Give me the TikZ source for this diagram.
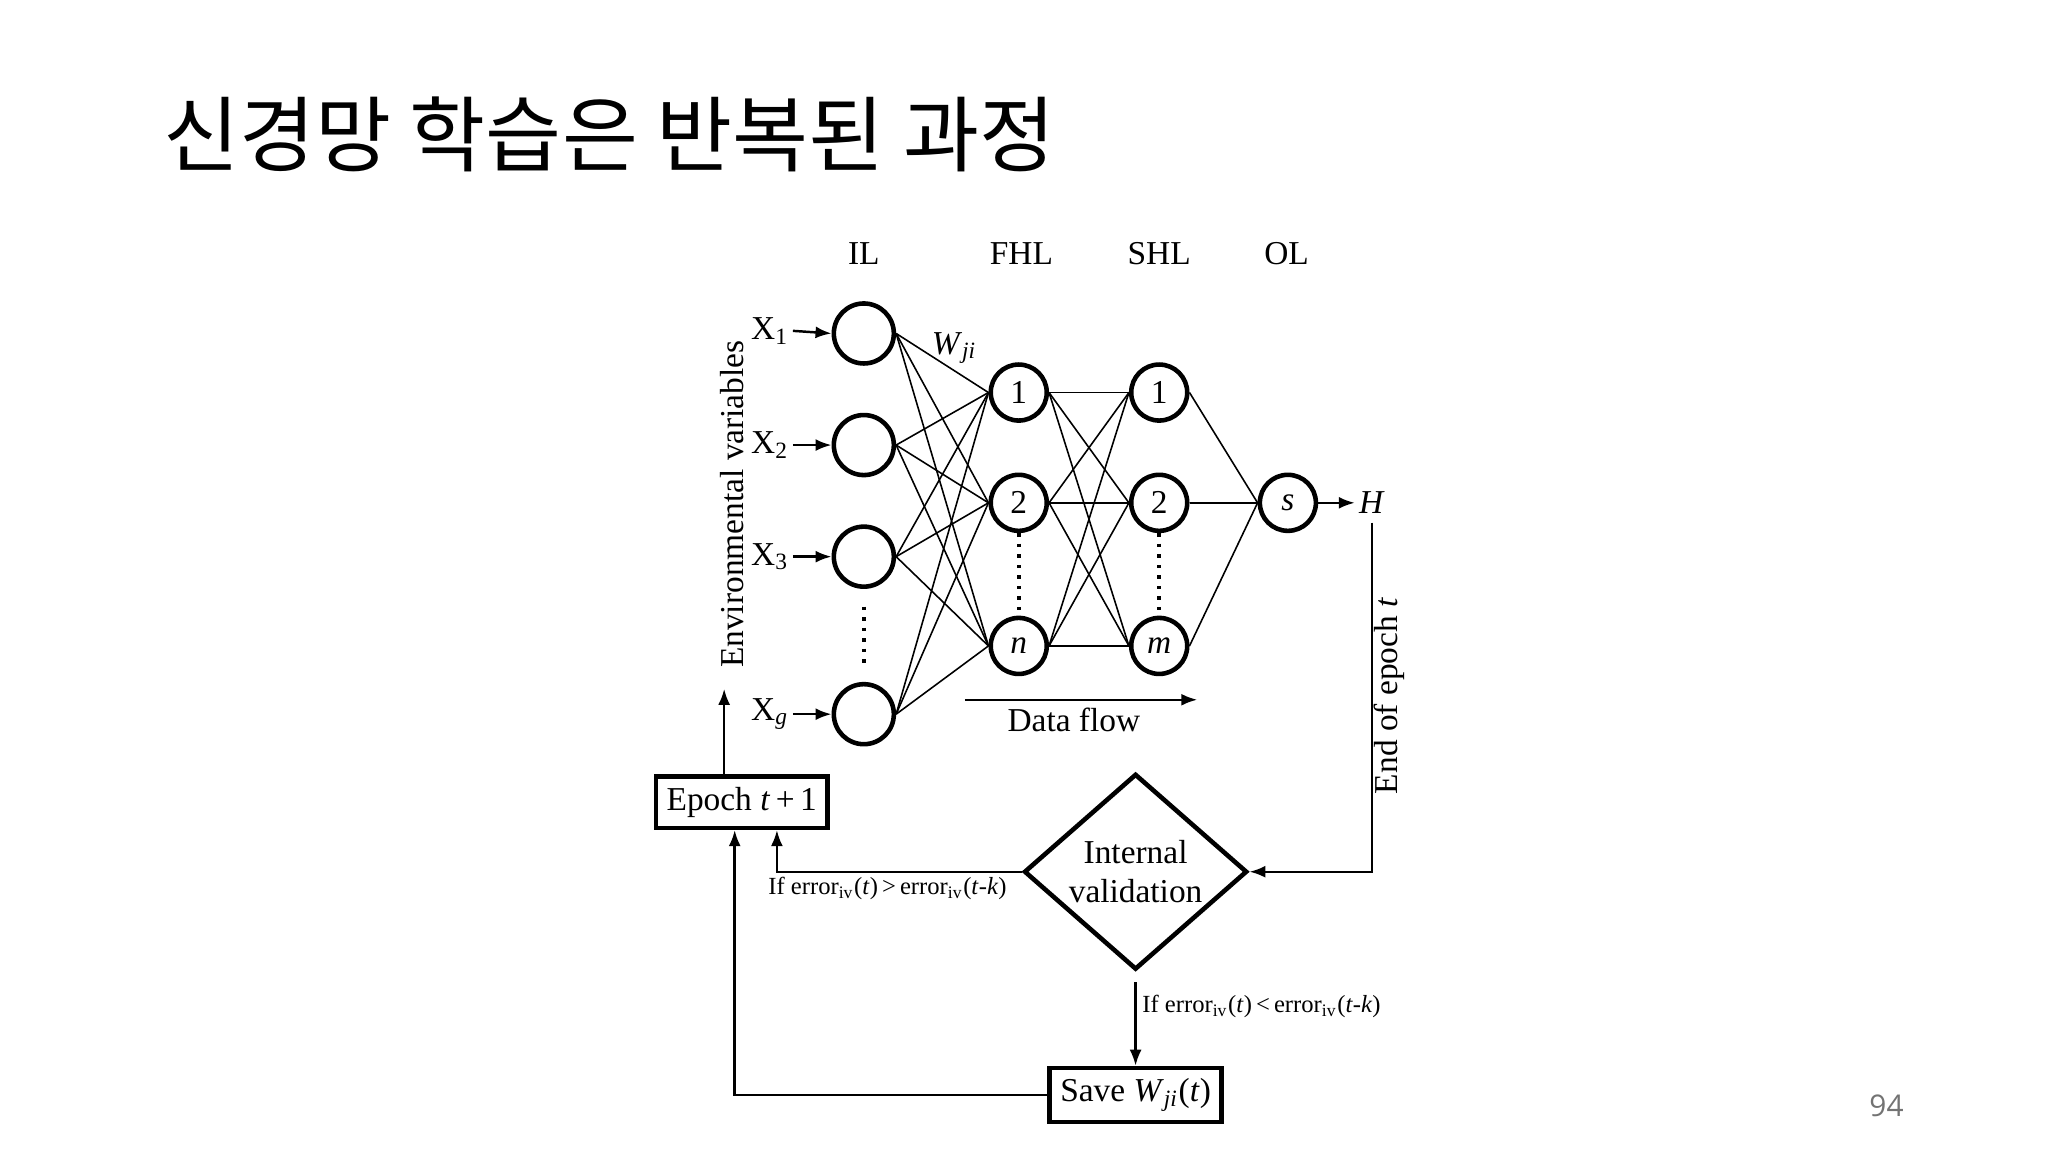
\documentclass[tikz,border=0pt]{standalone}
\usepackage{fontspec}
\setmainfont{Liberation Serif}
\newfontfamily\cjk{Noto Sans CJK KR}
\newfontfamily\pagefont{Open Sans}
\usetikzlibrary{arrows.meta,shapes.geometric,positioning}

\tikzset{
    neuron/.style={circle,draw,line width=1.3pt,minimum size=0.56cm,inner sep=0pt,font=\fontsize{9.5}{11}\selectfont},
    link/.style={line width=0.45pt},
    flow/.style={line width=0.7pt,-{Latex[length=1.6mm,width=1.2mm]}},
    labeltext/.style={font=\fontsize{9.5}{11}\selectfont},
    boxed/.style={draw,line width=1.3pt,inner sep=3pt,font=\fontsize{9.5}{11}\selectfont},
    small/.style={font=\fontsize{7}{8}\selectfont,inner sep=1pt}
}

\begin{document}
\begin{tikzpicture}[x=0.01313cm,y=-0.01313cm]
    \useasboundingbox (0,0) rectangle (1560,877.5);

    % Title and page number
    \node[anchor=west,font=\cjk\fontsize{23.5}{28}\selectfont] (title) at (115,102) {신경망 학습은 반복된 과정};
    \node[font=\pagefont\fontsize{8.5}{10}\selectfont,text=black!55] (page) at (1437,842) {94};

    % Layer labels
    \node[labeltext] (lil) at (658,193) {IL};
    \node[labeltext] (lfhl) at (778,193) {FHL};
    \node[labeltext] (lshl) at (883,193) {SHL};
    \node[labeltext] (lol) at (980,193) {OL};

    % Input layer
    \node[neuron,minimum size=0.6cm] (i1) at (658,254) {};
    \node[neuron,minimum size=0.6cm] (i2) at (658,339) {};
    \node[neuron,minimum size=0.6cm] (i3) at (658,424) {};
    \node[neuron,minimum size=0.6cm] (ig) at (658,544) {};
    % Hidden layers
    \node[neuron] (f1) at (776,299) {1};
    \node[neuron] (f2) at (776,383) {2};
    \node[neuron] (fn) at (776,492) {\textit{n}};
    \node[neuron] (s1) at (883,299) {1};
    \node[neuron] (s2) at (883,383) {2};
    \node[neuron] (sm) at (883,492) {\textit{m}};
    % Output layer
    \node[neuron] (out) at (981,383) {\textit{s}};

    % Connections
    \foreach \i in {i1,i2,i3,ig}
        \foreach \f in {f1,f2,fn}
            \draw[link] (\i.east) -- (\f.west);
    \foreach \f in {f1,f2,fn}
        \foreach \s in {s1,s2,sm}
            \draw[link] (\f.east) -- (\s.west);
    \foreach \s in {s1,s2,sm}
        \draw[link] (\s.east) -- (out.west);

    % Dots
    \draw[dotted,line width=1pt] ([yshift=-5pt]i3.south) -- ([yshift=5pt]ig.north);
    \draw[dotted,line width=1pt] (f2.south) -- (fn.north);
    \draw[dotted,line width=1pt] (s2.south) -- (sm.north);

    % Inputs and output
    \node[labeltext,anchor=east,inner sep=1pt] (x1) at (604,252) {X\textsubscript{1}};
    \node[labeltext,anchor=east,inner sep=1pt] (x2) at (604,339) {X\textsubscript{2}};
    \node[labeltext,anchor=east,inner sep=1pt] (x3) at (604,424) {X\textsubscript{3}};
    \node[labeltext,anchor=east,inner sep=1pt] (xg) at (604,544) {X\textsubscript{\textit{g}}};
    \foreach \x/\i in {x1/i1,x2/i2,x3/i3,xg/ig}
        \draw[flow] (\x.east) -- (\i.west);
    \node[labeltext,anchor=west,inner sep=1pt] (h) at (1032,383) {\textit{H}};
    \draw[flow] (out.east) -- (h.west);
    \node[labeltext] (wji) at (727,265) {\textit{W}\textsubscript{\textit{ji}}};

    % Data flow
    \coordinate (dfa) at (735,533);
    \coordinate (dfb) at (912,533);
    \draw[flow] (dfa) -- (dfb);
    \node[labeltext] (df) at (818,548) {Data flow};

    % Side labels
    \node[labeltext,rotate=90] (env) at (558,384) {Environmental variables};
    \node[labeltext,rotate=90] (eoe) at (1058,530) {End of epoch \textit{t}};

    % Training loop
    \node[boxed] (epoch) at (565,611) {Epoch \textit{t}\,+\,1};
    \node[diamond,draw,line width=1.3pt,minimum width=2.23cm,minimum height=1.68cm,inner sep=0pt,align=center,font=\fontsize{9.5}{11}\selectfont] (val) at (865,664) {Internal\\validation};
    \node[boxed] (save) at (865,834) {Save \textit{W}\textsubscript{\textit{ji}}(\textit{t})};

    \coordinate (eoetop) at (1045,398);
    \draw[flow] (eoetop) |- (val.east);
    \draw[flow] (val.west) -| ([xshift=10]epoch.south);
    \node[small] (gt) at (676,677) {If error\textsubscript{iv}(\textit{t})\,>\,error\textsubscript{iv}(\textit{t}-\textit{k})};
    \draw[flow] ([yshift=-3pt]val.south) -- (save.north);
    \node[small,anchor=west] (lt) at (867,767) {If error\textsubscript{iv}(\textit{t})\,<\,error\textsubscript{iv}(\textit{t}-\textit{k})};
    \draw[flow] (save.west) -| ([xshift=-2]epoch.south);
    \draw[flow] ([xshift=-5]epoch.north) -- ++(0,-65);
\end{tikzpicture}
\end{document}
